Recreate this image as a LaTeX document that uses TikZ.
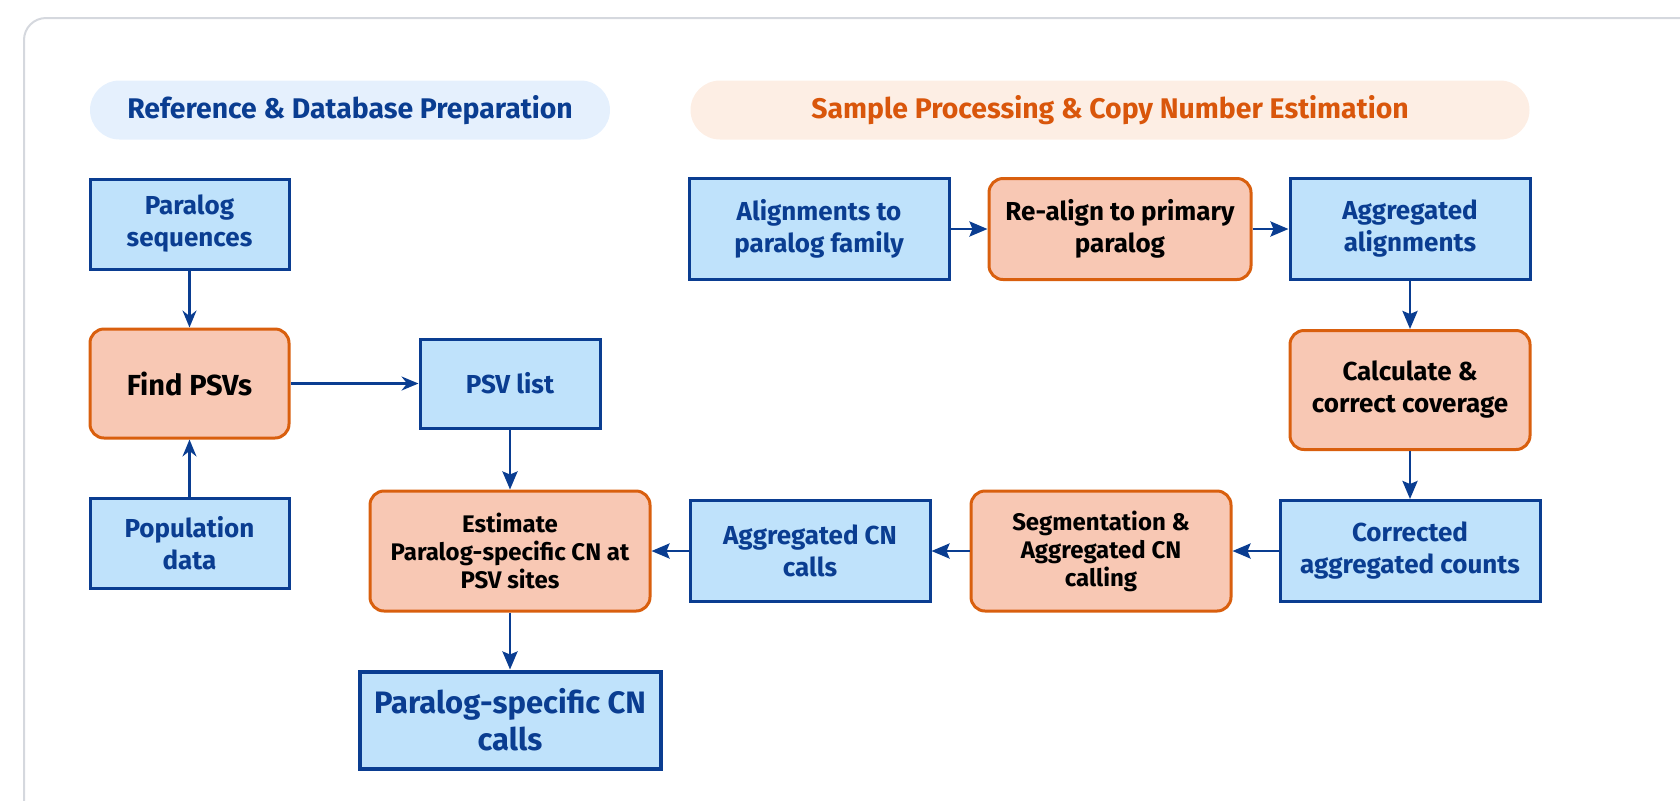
\documentclass[tikz,border=0pt]{standalone}
\usepackage{fontspec}
\setmainfont{Fira Sans}
\usetikzlibrary{arrows.meta,positioning}
\definecolor{psvInk}{HTML}{0A3D91}
\definecolor{psvSky}{HTML}{BFE2FB}
\definecolor{psvOrange}{HTML}{D95F0E}
\definecolor{psvPeach}{HTML}{F8C8B4}
\definecolor{psvHdrBlue}{HTML}{E5F0FD}
\definecolor{psvHdrOrange}{HTML}{FDEEE4}
\definecolor{psvHdrText}{HTML}{D9560B}
\definecolor{psvFrame}{HTML}{D5D8DE}
\tikzset{
  box/.style={draw=psvInk,fill=psvSky,line width=1.5pt,inner sep=2pt,align=center,
              text=psvInk,font=\bfseries\fontsize{13}{16}\selectfont},
  task/.style={box,draw=psvOrange,fill=psvPeach,text=black,rounded corners=7pt},
  three/.style={font=\bfseries\fontsize{12}{14}\selectfont},
  result/.style={box,line width=2pt,font=\bfseries\fontsize{15.5}{18.5}\selectfont},
  hdr/.style={rounded corners=14.75pt,minimum height=29.5pt,inner sep=0pt,
              font=\bfseries\fontsize{14.2}{16}\selectfont},
  arr/.style={-{Stealth[length=9pt,width=7.5pt,inset=1.5pt]},draw=psvInk,line width=1.4pt},
  arrv/.style={-{Stealth[length=8.5pt,width=7pt,inset=2.8pt]},draw=psvInk,line width=1.1pt},
}

\begin{document}
\begin{tikzpicture}[x=0.5pt,y=-0.5pt]
  \clip (0,0) rectangle (1680,800);
  \useasboundingbox (0,0) rectangle (1680,800);
  \draw[psvFrame,line width=1pt,rounded corners=11pt] (24,18) rectangle (1740,860);

  % section headers
  \node[hdr,fill=psvHdrBlue,text=psvInk,minimum width=260pt] (hdrref) at (350,110) {Reference \& Database Preparation};
  \node[hdr,fill=psvHdrOrange,text=psvHdrText,minimum width=419.5pt] (hdrsam) at (1110,110) {Sample Processing \& Copy Number Estimation};

  % sample chain
  \node[box,minimum width=130pt,minimum height=50.5pt] (aln) at (819,229) {Alignments to\\paralog family};
  \node[task,minimum width=131pt,minimum height=50.5pt,right=18.5pt of aln] (realign) {Re-align to primary\\paralog};
  \node[box,minimum width=120pt,minimum height=50.5pt,right=18pt of realign] (aggaln) {Aggregated\\alignments};
  \node[task,minimum width=120pt,minimum height=59.5pt,below=24pt of aggaln] (calc) {Calculate \&\\correct coverage};
  \node[box,minimum width=130pt,minimum height=50.5pt,below=24pt of calc] (corr) {Corrected\\aggregated counts};
  \node[task,three,minimum width=130pt,minimum height=60pt,left=23pt of corr] (seg) {Segmentation \&\\Aggregated CN\\calling};
  \node[box,minimum width=120pt,minimum height=50.5pt,left=19pt of seg] (aggcn) {Aggregated CN\\calls};
  \node[task,three,minimum width=140pt,minimum height=60pt,left=18.5pt of aggcn] (est) {Estimate\\Paralog-specific CN at\\PSV sites};
  \node[result,minimum width=150.5pt,minimum height=48.5pt,below=28.5pt of est] (final) {Paralog-specific CN\\calls};

  % reference side
  \node[box,minimum width=90pt,minimum height=44.5pt,above=30pt of est] (psv) {PSV list};
  \node[task,minimum width=99.5pt,minimum height=54.5pt,left=64pt of psv,
        font=\bfseries\fontsize{14.5}{17}\selectfont] (find) {Find PSVs};
  \node[box,minimum width=99.5pt,minimum height=45pt,above=28.5pt of find] (seq) {Paralog\\sequences};
  \node[box,minimum width=99.5pt,minimum height=45pt,below=28.5pt of find] (pop) {Population\\data};

  \draw[arrv] (seq) -- (find);
  \draw[arrv] (pop) -- (find);
  \draw[arrv] (find) -- (psv);
  \draw[arr] (psv) -- (est);
  \draw[arr] (est) -- (final);
  \draw[arr] (aln) -- (realign);
  \draw[arr] (realign) -- (aggaln);
  \draw[arr] (aggaln) -- (calc);
  \draw[arr] (calc) -- (corr);
  \draw[arr] (corr) -- (seg);
  \draw[arr] (seg) -- (aggcn);
  \draw[arr] (aggcn) -- (est);
\end{tikzpicture}
\end{document}
